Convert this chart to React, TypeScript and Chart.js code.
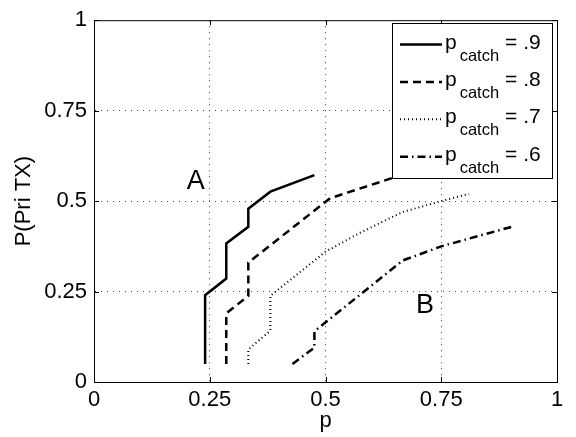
import React, { useEffect, useRef } from 'react';
import { Chart, registerables } from 'chart.js';

Chart.register(...registerables);

// p_catch = .9 (solid)
const x09 = [0.24, 0.24, 0.2857, 0.2857, 0.3333, 0.3333, 0.381, 0.476];
const y09 = [0.05, 0.24, 0.286, 0.383, 0.429, 0.479, 0.526, 0.572];
// p_catch = .8 (dashed)
const x08 = [0.2857, 0.2857, 0.3333, 0.3333, 0.51, 0.64, 0.714];
const y08 = [0.05, 0.19, 0.238, 0.33, 0.508, 0.562, 0.59];
// p_catch = .7 (dotted)
const x07 = [0.3333, 0.3333, 0.381, 0.381, 0.5, 0.571, 0.667, 0.75, 0.81];
const y07 = [0.05, 0.09, 0.142, 0.238, 0.36, 0.41, 0.47, 0.5, 0.52];
// p_catch = .6 (dash-dot)
const x06 = [0.4286, 0.476, 0.476, 0.667, 0.75, 0.905];
const y06 = [0.05, 0.095, 0.14, 0.336, 0.375, 0.43];

const legendValues = ['.9', '.8', '.7', '.6'];
const tickValues = [0, 0.25, 0.5, 0.75, 1];
const tickLabels = ['0', '0.25', '0.5', '0.75', '1'];

const regionLabels = ['A', 'B'];
const regionX = [0.22, 0.715];
const regionY = [0.555, 0.21];

const FONT = '"Liberation Sans", Arial, Helvetica, sans-serif';

const toPoints = (xs: number[], ys: number[]) => xs.map((x, i) => ({ x, y: ys[i] }));

const dashes: number[][] = [[], [8, 5], [1, 3], [8, 4, 1.5, 4]];
const widths = [2.5, 2.5, 2, 2.5];

export default function App() {
  const ref = useRef<HTMLCanvasElement>(null);

  useEffect(() => {
    document.body.style.margin = '0';
    const series = [
      toPoints(x09, y09),
      toPoints(x08, y08),
      toPoints(x07, y07),
      toPoints(x06, y06),
    ];

    const framePlugin = {
      id: 'frameAndLegend',
      afterDatasetsDraw(chart: any) {
        const ctx = chart.ctx as CanvasRenderingContext2D;
        const { left, right, top, bottom } = chart.chartArea;
        const xs = chart.scales.x;
        const ys = chart.scales.y;
        ctx.save();
        ctx.strokeStyle = '#000';
        ctx.lineWidth = 1;
        ctx.setLineDash([]);
        ctx.beginPath();
        ctx.moveTo(left, top + 0.5);
        ctx.lineTo(right + 0.5, top + 0.5);
        ctx.lineTo(right + 0.5, bottom);
        ctx.stroke();
        const tl = 5;
        ctx.beginPath();
        tickValues.forEach((v) => {
          const px = Math.round(xs.getPixelForValue(v)) + 0.5;
          ctx.moveTo(px, bottom);
          ctx.lineTo(px, bottom - tl);
          ctx.moveTo(px, top);
          ctx.lineTo(px, top + tl);
          const py = Math.round(ys.getPixelForValue(v)) + 0.5;
          ctx.moveTo(left, py);
          ctx.lineTo(left + tl, py);
          ctx.moveTo(right, py);
          ctx.lineTo(right - tl, py);
        });
        ctx.stroke();

        ctx.fillStyle = '#000';
        ctx.font = `27px ${FONT}`;
        ctx.textAlign = 'center';
        ctx.textBaseline = 'middle';
        regionLabels.forEach((t, i) => {
          ctx.fillText(t, xs.getPixelForValue(regionX[i]), ys.getPixelForValue(regionY[i]));
        });

        const lx = 392.5, ly = 23.5, lw = 160, lh = 155;
        ctx.fillStyle = '#fff';
        ctx.fillRect(lx, ly, lw, lh);
        ctx.strokeStyle = '#000';
        ctx.lineWidth = 1;
        ctx.strokeRect(lx, ly, lw, lh);
        ctx.textAlign = 'left';
        ctx.textBaseline = 'alphabetic';
        legendValues.forEach((val, i) => {
          const base = 48.5 + i * 37.4;
          const lineY = base - 4;
          ctx.save();
          ctx.strokeStyle = '#000';
          ctx.lineWidth = widths[i];
          ctx.setLineDash(dashes[i]);
          ctx.beginPath();
          ctx.moveTo(400, lineY);
          ctx.lineTo(442, lineY);
          ctx.stroke();
          ctx.restore();
          ctx.fillStyle = '#000';
          ctx.font = `21px ${FONT}`;
          const px = 445;
          ctx.fillText('p', px, base);
          const sx = px + ctx.measureText('p').width + 3;
          ctx.font = `16.5px ${FONT}`;
          ctx.fillText('catch', sx, base + 12);
          const ex = sx + ctx.measureText('catch').width + 6;
          ctx.font = `21px ${FONT}`;
          ctx.fillText('= ' + val, ex, base);
        });
        ctx.restore();
      },
    };

    const gridColor = (c: any) => {
      const v = c.tick ? c.tick.value : null;
      return v === 0 || v === 1 ? 'rgba(0,0,0,0)' : '#444';
    };

    const chart = new Chart(ref.current!, {
      type: 'line',
      data: {
        datasets: series.map((d, i) => ({
          label: 'p_catch = ' + legendValues[i],
          data: d,
          borderColor: '#000',
          backgroundColor: '#000',
          borderWidth: widths[i],
          borderDash: dashes[i],
          borderCapStyle: 'butt',
          pointRadius: 0,
          tension: 0,
          fill: false,
        })),
      },
      options: {
        animation: false,
        responsive: false,
        layout: { padding: { top: 17, right: 19, left: 0, bottom: 0 } },
        plugins: {
          legend: { display: false },
          tooltip: { enabled: false },
        },
        scales: {
          x: {
            type: 'linear',
            min: 0,
            max: 1,
            afterFit: (s: any) => { s.height = 55; },
            afterBuildTicks: (s: any) => { s.ticks = tickValues.map((v) => ({ value: v })); },
            ticks: {
              padding: 5,
              color: '#000',
              font: { family: FONT, size: 22 },
              maxRotation: 0,
              callback: (v: any) => tickLabels[tickValues.indexOf(Number(v))] ?? '',
            },
            grid: { drawTicks: false, color: gridColor, lineWidth: 1 },
            border: { display: true, color: '#000', width: 1, dash: [1, 5] },
            title: {
              display: true,
              text: 'p',
              color: '#000',
              font: { family: FONT, size: 22 },
              padding: { top: 0, bottom: 3 },
            },
          },
          y: {
            type: 'linear',
            min: 0,
            max: 1,
            afterFit: (s: any) => { s.width = 94; },
            afterBuildTicks: (s: any) => { s.ticks = tickValues.map((v) => ({ value: v })); },
            ticks: {
              padding: 7,
              color: '#000',
              font: { family: FONT, size: 22 },
              callback: (v: any) => tickLabels[tickValues.indexOf(Number(v))] ?? '',
            },
            grid: { drawTicks: false, color: gridColor, lineWidth: 1 },
            border: { display: true, color: '#000', width: 1, dash: [1, 5] },
            title: {
              display: true,
              text: 'P(Pri TX)',
              color: '#000',
              font: { family: FONT, size: 22 },
              padding: { top: 11, bottom: 0 },
            },
          },
        },
      },
      plugins: [framePlugin],
    } as any);
    return () => chart.destroy();
  }, []);

  return (
    <div style={{ width: 576, height: 437, position: 'relative', background: '#fff' }}>
      <canvas ref={ref} width={576} height={437} style={{ width: 576, height: 437, display: 'block' }} />
    </div>
  );
}
